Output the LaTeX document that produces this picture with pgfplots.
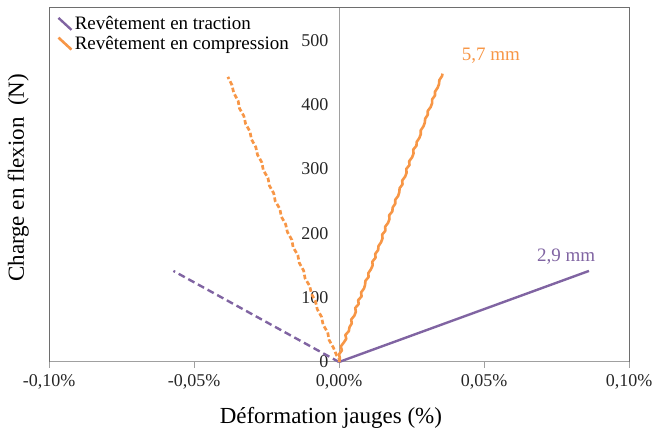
\documentclass[border=0pt]{standalone}
\usepackage{pgfplots}
\pgfplotsset{compat=1.18}
\usepackage{fontspec}
\setmainfont{Liberation Serif}
\definecolor{violetX}{RGB}{128,100,162}
\definecolor{orangeX}{RGB}{247,150,70}
\definecolor{axgray}{RGB}{160,160,160}
\definecolor{boxgray}{RGB}{110,110,110}

\begin{document}
\begin{tikzpicture}
\begin{axis}[
  scale only axis, width=580pt, height=354pt,
  xmin=-0.1, xmax=0.1, ymin=0, ymax=550,
  axis x line=bottom, axis y line=middle,
  hide obscured y ticks=false, hide obscured x ticks=false,
  axis line style={-, draw=axgray, line width=1pt},
  xtick={-0.1,-0.05,0,0.05,0.1},
  xticklabels={{-0,10\%},{-0,05\%},{0,00\%},{0,05\%},{0,10\%}},
  ytick={0,100,200,300,400,500},
  yticklabels={0,100,200,300,400,500},
  xtick align=outside,
  major tick length=6pt,
  xtick style={draw=axgray, line width=1pt},
  ytick style={draw=none},
  ticklabel style={font=\fontsize{18}{20}\selectfont, text=black!85},
  xticklabel style={yshift=-3pt},
  yticklabel style={xshift=-4pt},
  /pgf/number format/assume math mode=true,
  xlabel={Déformation jauges (\%)},
  ylabel={Charge en flexion~~(N)},
  xlabel style={at={(axis description cs:0.486,-0.158)}, anchor=center, font=\fontsize{23}{26}\selectfont},
  ylabel style={at={(axis description cs:-0.053,0.52)}, anchor=center, rotate=90, font=\fontsize{23}{26}\selectfont},
  legend style={at={(axis description cs:0.012,0.985)}, anchor=north west, draw=none, fill=none,
    font=\fontsize{19}{22}\selectfont, row sep=1pt, inner sep=1pt},
  legend cell align=left,
  legend image code/.code={\draw[#1, solid] (0pt,6pt) -- (13pt,-6pt);},
  clip=false,
]
\coordinate (bl) at (rel axis cs:0,0);
\draw[boxgray, line width=1pt] (rel axis cs:0,0) -- (rel axis cs:0,1) -- (rel axis cs:1,1) -- (rel axis cs:1,0);

\addplot[violetX, line width=2.4pt] coordinates {(0,0) (0.0862,141.5)};
\addlegendentry{Revêtement en traction}

\addplot[orangeX, line width=2.6pt, line join=round] coordinates {
(0.0000,0) (0.0003,6) (0.0000,12) (0.0010,18) (0.0006,24) (0.0016,30) (0.0025,36) (0.0022,42)
(0.0034,48) (0.0036,54) (0.0044,60) (0.0042,66) (0.0053,72) (0.0058,78) (0.0056,84) (0.0068,90)
(0.0066,96) (0.0078,102) (0.0076,108) (0.0086,114) (0.0090,120) (0.0091,126) (0.0102,132)
(0.0101,138) (0.0110,144) (0.0116,150) (0.0115,156) (0.0126,162) (0.0125,168) (0.0135,174)
(0.0136,180) (0.0145,186) (0.0150,192) (0.0149,198) (0.0160,204) (0.0159,210) (0.0169,216)
(0.0174,222) (0.0173,228) (0.0184,234) (0.0185,240) (0.0194,246) (0.0194,252) (0.0204,258)
(0.0208,264) (0.0209,270) (0.0219,276) (0.0218,282) (0.0228,288) (0.0233,294) (0.0232,300)
(0.0243,306) (0.0242,312) (0.0252,318) (0.0257,324) (0.0256,330) (0.0267,336) (0.0268,342)
(0.0277,348) (0.0282,354) (0.0282,360) (0.0291,366) (0.0296,372) (0.0297,378) (0.0306,384)
(0.0306,390) (0.0316,396) (0.0321,402) (0.0321,408) (0.0331,414) (0.0331,420) (0.0340,426)
(0.0345,432) (0.0346,438) (0.0355,444) (0.0357,448)};
\addlegendentry{Revêtement en compression}

\addplot[violetX, line width=2.4pt, dash pattern=on 7pt off 4pt, forget plot] coordinates {(0,0) (-0.0571,141.5)};

\addplot[orangeX, line width=2.7pt, dash pattern=on 4.5pt off 2.5pt, forget plot] coordinates {
(0.0000,0) (0.0002,4) (-0.0008,10) (-0.0019,22) (-0.0034,34) (-0.0039,46) (-0.0055,58)
(-0.0060,70) (-0.0075,82) (-0.0081,94) (-0.0095,106) (-0.0101,118) (-0.0117,130)
(-0.0122,142) (-0.0137,154) (-0.0142,166) (-0.0158,178) (-0.0163,190) (-0.0178,202)
(-0.0184,214) (-0.0199,226) (-0.0204,238) (-0.0220,250) (-0.0225,262) (-0.0240,274)
(-0.0245,286) (-0.0261,298) (-0.0266,310) (-0.0281,322) (-0.0287,334) (-0.0302,346)
(-0.0307,358) (-0.0322,370) (-0.0328,382) (-0.0343,394) (-0.0348,406) (-0.0363,418)
(-0.0369,430) (-0.0383,443)};

\node[text=violetX, font=\fontsize{19}{22}\selectfont] at (axis cs:0.0783,163) {2,9 mm};
\node[text=orangeX, font=\fontsize{19}{22}\selectfont] at (axis cs:0.0524,476) {5,7 mm};
\end{axis}
\pgfresetboundingbox
\path[use as bounding box] ([shift={(-49pt,-76pt)}]bl) rectangle ([shift={(606pt,362pt)}]bl);
\end{tikzpicture}
\end{document}
